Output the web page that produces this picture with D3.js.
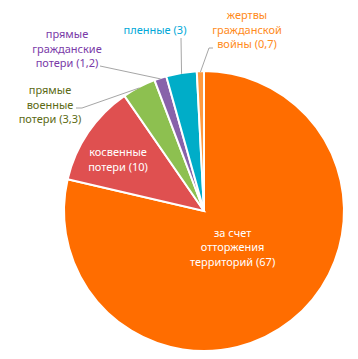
<!DOCTYPE html>
<html>
<head>
<meta charset="utf-8">
<script src="https://cdn.jsdelivr.net/npm/d3@7"></script>
<style>
  body { margin: 0; background: #fff; }
  text { font-family: "Noto Sans", sans-serif; font-size: 11px; }
</style>
</head>
<body>
<div id="chart"></div>
<script>
// slices, clockwise from 12 o'clock
var categories = ["за счет отторжения территорий", "косвенные потери", "прямые военные потери",
                  "прямые гражданские потери", "пленные", "жертвы гражданской войны"];
var values = [67, 10, 3.3, 1.2, 3, 0.7];
var valueLabels = ["67", "10", "3,3", "1,2", "3", "0,7"];
var labelLines = [
    ["за счет", "отторжения", "территорий (67)"],
    ["косвенные", "потери (10)"],
    ["прямые", "военные", "потери (3,3)"],
    ["прямые", "гражданские", "потери (1,2)"],
    ["пленные (3)"],
    ["жертвы", "гражданской", "войны (0,7)"]
];
var sliceColors = ["#ff6d00", "#df5050", "#8dc050", "#8862aa", "#00adc8", "#ff9a40"];
var textColors = ["#ffffff", "#ffffff", "#5c6a14", "#7a3aa8", "#00a8d8", "#ff8a20"];

var width = 358, height = 359;
var cx = 204, cy = 211, radius = 140;
var lineH = 14.5;

// label placement: inside labels use radius, outside labels use text centre + leader elbow
var layout = [
    { inside: true, r: 46, dy: 0 },
    { inside: true, r: 104, dy: 7 },
    { x: 50, y: 94, elbow: [[76, 108], [82, 108]] },
    { x: 67, y: 38, elbow: [[100, 66]] },
    { x: 155, y: 34, elbow: [[181, 38]] },
    { x: 247, y: 19, elbow: [[213, 48], [209, 48]] }
];

var svg = d3.select("#chart").append("svg")
    .attr("width", width)
    .attr("height", height);

var g = svg.append("g")
    .attr("transform", "translate(" + cx + "," + cy + ")");

var pie = d3.pie().sort(null).value(function (d) { return d; });
var arcs = pie(values);

var arc = d3.arc().innerRadius(0).outerRadius(radius);

g.selectAll("path.slice")
    .data(arcs)
    .enter().append("path")
    .attr("class", "slice")
    .attr("d", arc)
    .style("fill", function (d, i) { return sliceColors[i]; })
    .style("stroke", "#fff")
    .style("stroke-width", 2);

function edgePoint(d, r) {
    var a = (d.startAngle + d.endAngle) / 2;
    return [Math.sin(a) * r, -Math.cos(a) * r];
}

// leader lines
arcs.forEach(function (d, i) {
    var l = layout[i];
    if (l.inside) return;
    var pts = l.elbow.map(function (p) { return [p[0] - cx, p[1] - cy]; });
    pts.push(edgePoint(d, radius - 1));
    g.append("path")
        .attr("d", d3.line()(pts))
        .style("fill", "none")
        .style("stroke", "#a6a6a6")
        .style("stroke-width", 1);
});

// labels
arcs.forEach(function (d, i) {
    var l = layout[i];
    var x, y;
    if (l.inside) {
        var p = edgePoint(d, l.r);
        x = p[0];
        y = p[1] + l.dy - (labelLines[i].length - 1) * lineH / 2 + 4;
    } else {
        x = l.x - cx;
        y = l.y - cy;
    }
    var t = g.append("text")
        .attr("text-anchor", "middle")
        .style("fill", textColors[i]);
    labelLines[i].forEach(function (s, k) {
        t.append("tspan")
            .attr("x", x)
            .attr("y", y + k * lineH)
            .text(s);
    });
});
</script>
</body>
</html>
